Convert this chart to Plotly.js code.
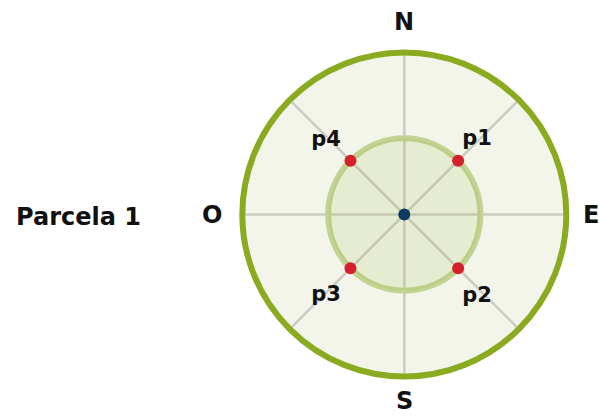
<!DOCTYPE html>
<html><head><meta charset="utf-8">
<script src="https://cdn.plot.ly/plotly-3.0.1.min.js"></script>
<style>html,body{margin:0;padding:0;background:#fff}#chart{width:599px;height:419px}</style>
</head><body><div id="chart"></div>
<script>
// Spoke directions every 45 degrees
const dirTheta = [0, 45, 90, 135, 180, 225, 270, 315];
// Cardinal labels (N, E, S, O)
const cardinalLabels = ['N', 'E', 'S', 'O'];
// Sampling points
const pointNames = ['p1', 'p2', 'p3', 'p4'];
const pointTheta = [45, 135, 225, 315];
const pointR = [0.47, 0.47, 0.47, 0.47];
// Centre
const centerR = [0];
const centerTheta = [0];
// Inner zone radius
const innerR = [0.47];
const plotTitle = 'Parcela 1';

const FONT = 'DejaVu Sans, sans-serif';
const W = 599, H = 419;
// label placement (layout): polar position of each point's label
const labelPosR = [0.643, 0.679, 0.698, 0.663];
const labelPosTheta = [44.3, 138.6, 223.8, 313.2];
// pixel positions of cardinal labels (layout)
const cardPos = [[404, 22], [591, 215], [404, 401], [212, 215]];

const traces = [
  {
    type: 'barpolar', r: innerR, theta: [0], width: [360],
    marker: {color: 'rgba(138,170,30,0.12)', line: {width: 0}},
    hoverinfo: 'skip', showlegend: false
  },
  {
    type: 'scatterpolar', mode: 'text',
    r: labelPosR, theta: labelPosTheta, text: pointNames, textposition: 'middle center',
    textfont: {family: FONT, size: 21, color: '#111', weight: 'bold'},
    showlegend: false, cliponaxis: false
  },
  {
    type: 'scatterpolar', mode: 'markers',
    r: pointR, theta: pointTheta,
    marker: {color: '#d4202a', size: 12},
    showlegend: false, cliponaxis: false
  },
  {
    type: 'scatterpolar', mode: 'markers',
    r: centerR, theta: centerTheta,
    marker: {color: '#0b3b63', size: 12},
    showlegend: false
  }
];

const annotations = cardinalLabels.map((t, i) => ({
  text: t, xref: 'paper', yref: 'paper',
  x: cardPos[i][0] / W, y: 1 - cardPos[i][1] / H,
  xanchor: 'center', yanchor: 'middle', showarrow: false,
  font: {family: FONT, size: 24, color: '#111', weight: 'bold'}
}));
annotations.push({
  text: plotTitle, xref: 'paper', yref: 'paper',
  x: 78 / W, y: 1 - 217 / H, xanchor: 'center', yanchor: 'middle',
  showarrow: false,
  font: {family: FONT, size: 24, color: '#111', weight: 'bold'}
});

const layout = {
  width: W, height: H,
  margin: {l: 0, r: 0, t: 0, b: 0},
  paper_bgcolor: '#ffffff',
  showlegend: false,
  polar: {
    domain: {x: [242.3 / W, 566.3 / W], y: [1 - 376.5 / H, 1 - 52.5 / H]},
    bgcolor: '#f3f5ea',
    barmode: 'overlay',
    radialaxis: {
      range: [0, 1], tickvals: innerR, showticklabels: false, ticks: '',
      showline: false, showgrid: true, gridcolor: '#c3d394', gridwidth: 6
    },
    angularaxis: {
      rotation: 90, direction: 'clockwise',
      tickvals: dirTheta, showticklabels: false, ticks: '',
      showline: true, linecolor: '#8aab1f', linewidth: 6,
      showgrid: true, gridcolor: '#cbccc3', gridwidth: 2.5
    }
  },
  annotations: annotations
};

Plotly.newPlot('chart', traces, layout, {displayModeBar: false, staticPlot: true});
</script></body></html>
